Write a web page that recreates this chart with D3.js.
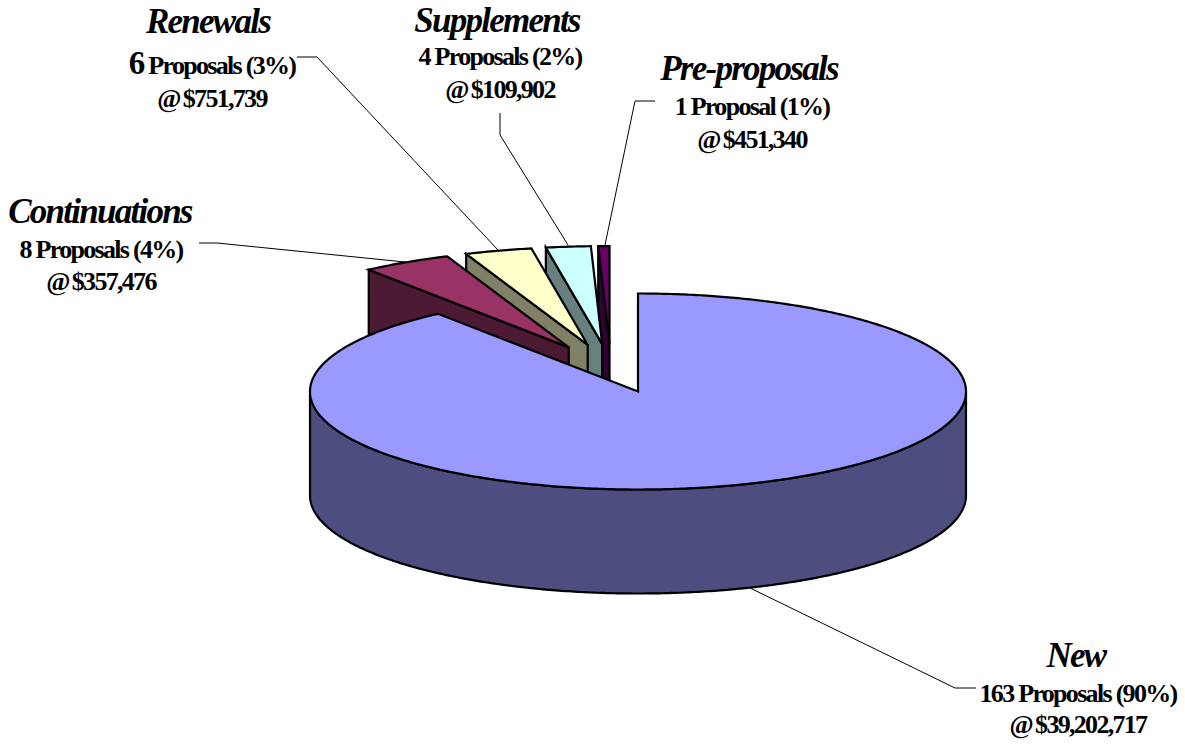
<!DOCTYPE html>
<html>
<head>
<meta charset="utf-8">
<title>Proposals by type</title>
<script src="https://cdn.jsdelivr.net/npm/d3@7"></script>
<style>
  html, body { margin: 0; padding: 0; background: #fff; }
  svg { display: block; }
  text { font-family: "Liberation Serif", "Times New Roman", serif; fill: #000; text-anchor: middle; }
  .name { font-size: 35px; font-weight: bold; font-style: italic; letter-spacing: -1.75px; }
  .detail { font-size: 26px; font-weight: bold; letter-spacing: -1.7px; }
  .big { font-size: 33px; }
  .at { font-size: 26px; }
</style>
</head>
<body>
<svg id="chart" width="1185" height="744"></svg>
<script>
const categories = ['New', 'Continuations', 'Renewals', 'Supplements', 'Pre-proposals'];
const proposals = [163, 8, 6, 4, 1];
const percents = ['90%', '4%', '3%', '2%', '1%'];
const amounts = ['$39,202,717', '$357,476', '$751,739', '$109,902', '$451,340'];
const topColors = ['#9999ff', '#993366', '#ffffcc', '#ccffff', '#660066'];
const wallColors = ['#4d4d80', '#4d1a33', '#808066', '#668080', '#330033'];

// label blocks: centre x of the name and of the details, baseline of each row
const labelPos = [
  { nameX: 1076, x: 1078, name: 667, line1: 702, line2: 733 },
  { nameX: 100, x: 101, name: 223, line1: 258, line2: 290 },
  { nameX: 208, x: 212, name: 33, line1: 74, line2: 107 },
  { nameX: 497, x: 500, name: 32, line1: 65, line2: 98 },
  { nameX: 749, x: 752, name: 80, line1: 115, line2: 148 }
];

const leaders = [
  [[748, 587], [955, 688], [976, 688]],
  [[199, 243], [217, 243], [405, 262]],
  [[297, 57], [317, 57], [498, 250]],
  [[500, 113], [500, 135], [568, 245]],
  [[655, 101], [635, 101], [605, 245]]
];

const cx = 638, cy = 391.5, rx = 328, ry = 98, depth = 104;
const explode = 0.26;
const clusterShift = [-27, -22];

const svg = d3.select('#chart');

const slices = d3.pie().sort(null)(proposals);

// flattened disc: angle 0 is 12 o'clock, running clockwise
const project = (a, r = 1) => [rx * r * Math.sin(a), -ry * r * Math.cos(a)];

slices.forEach((s, i) => {
  s.i = i;
  if (i === 0) {
    s.ox = cx;
    s.oy = cy;
  } else {
    const [mx, my] = project((s.startAngle + s.endAngle) / 2, explode);
    s.ox = cx + clusterShift[0] + mx;
    s.oy = cy + clusterShift[1] + my;
  }
});

const line = d3.line();

function rimPoints(s, a0, a1) {
  const n = Math.max(2, Math.ceil((a1 - a0) / 0.01));
  return d3.range(n + 1).map(k => {
    const [x, y] = project(a0 + (a1 - a0) * k / n);
    return [s.ox + x, s.oy + y];
  });
}

const g = svg.append('g')
  .attr('stroke', '#000')
  .attr('stroke-width', 2.2)
  .attr('stroke-linejoin', 'miter');

// exploded wedges go back to front, the big slice closes over them
const order = [4, 3, 2, 1, 0];

order.forEach(i => {
  const s = slices[i];
  const apex = [s.ox, s.oy];

  if (i === 0) {
    // front wall of the big slice, from the right tangent to the left one
    const front = rimPoints(s, Math.PI / 2, Math.PI * 1.5);
    const lower = front.map(p => [p[0], p[1] + depth]).reverse();
    g.append('path')
      .attr('d', line(front.concat(lower)) + 'Z')
      .attr('fill', wallColors[i]);
  } else {
    // radial side wall facing the viewer
    const [ex, ey] = project(s.startAngle);
    const corner = [s.ox + ex, s.oy + ey];
    const side = [corner, apex, [apex[0], apex[1] + depth], [corner[0], corner[1] + depth]];
    g.append('path')
      .attr('d', line(side) + 'Z')
      .attr('fill', wallColors[i]);
  }

  const rim = rimPoints(s, s.startAngle, s.endAngle);
  g.append('path')
    .attr('d', line([apex].concat(rim)) + 'Z')
    .attr('fill', topColors[i]);
});

svg.append('g')
  .attr('fill', 'none')
  .attr('stroke', '#000')
  .attr('stroke-width', 1)
  .selectAll('path')
  .data(leaders)
  .join('path')
  .attr('d', d => line(d));

const labels = svg.append('g')
  .selectAll('g')
  .data(categories)
  .join('g');

labels.append('text')
  .attr('class', 'name')
  .attr('x', (d, i) => labelPos[i].nameX)
  .attr('y', (d, i) => labelPos[i].name)
  .text(d => d);

labels.each(function (d, i) {
  const row = d3.select(this).append('text')
    .attr('class', 'detail')
    .attr('x', labelPos[i].x)
    .attr('y', labelPos[i].line1);
  const unit = proposals[i] === 1 ? 'Proposal' : 'Proposals';
  // only the Renewals count is set larger
  row.append('tspan')
    .attr('class', d === 'Renewals' ? 'big' : null)
    .text(proposals[i]);
  row.append('tspan').text(` ${unit} (${percents[i]})`);

  const cost = d3.select(this).append('text')
    .attr('class', 'detail')
    .attr('x', labelPos[i].x)
    .attr('y', labelPos[i].line2);
  cost.append('tspan').attr('class', 'at').text('@');
  cost.append('tspan').attr('dx', 3).text(amounts[i]);
});
</script>
</body>
</html>
